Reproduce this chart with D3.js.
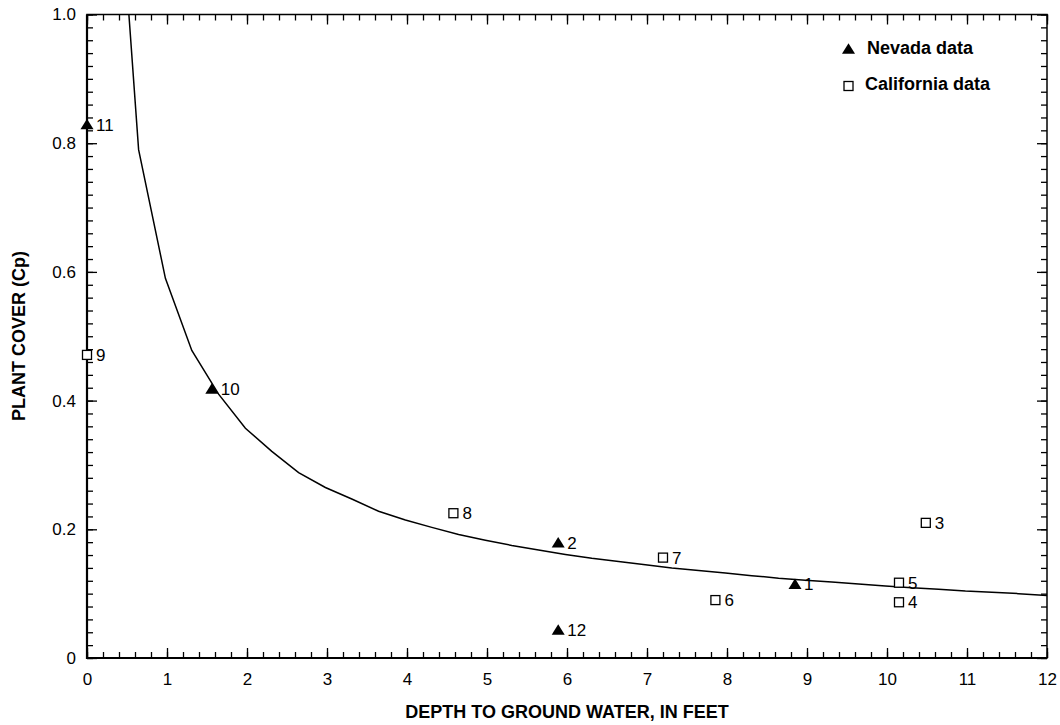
<!DOCTYPE html>
<html>
<head>
<meta charset="utf-8">
<script src="https://cdn.jsdelivr.net/npm/d3@7/dist/d3.min.js"></script>
<style>
  body { margin: 0; background: #fff; }
  svg { display: block; font-family: "Liberation Sans", Arial, Helvetica, sans-serif; }
  .tick text { font-size: 17px; fill: #000; }
</style>
</head>
<body>
<div id="chart"></div>
<script>
// Nevada sites (filled triangles)
var nevadaIds = ["1", "2", "10", "11", "12"];
var nevadaDepth = [8.85, 5.89, 1.56, 0.0, 5.89];
var nevadaCover = [0.1145, 0.179, 0.418, 0.829, 0.0435];

// California sites (open squares)
var californiaIds = ["3", "4", "5", "6", "7", "8", "9"];
var californiaDepth = [10.485, 10.15, 10.15, 7.855, 7.20, 4.58, 0.0];
var californiaCover = [0.210, 0.0866, 0.117, 0.090, 0.156, 0.225, 0.471];

// fitted curve, vertices
var curveDepth = [0.31, 0.645, 0.98, 1.31, 1.645, 1.98, 2.31, 2.645, 2.98, 3.31, 3.645, 3.98,
    4.31, 4.645, 4.98, 5.31, 5.645, 5.98, 6.31, 6.645, 6.98, 7.31, 7.645, 7.98,
    8.31, 8.645, 8.98, 9.31, 9.645, 9.98, 10.31, 10.645, 10.98, 11.31, 11.645, 12.0];
var curveCover = [1.37, 0.79, 0.59, 0.478, 0.41, 0.357, 0.321, 0.288, 0.265, 0.247, 0.228, 0.2145,
    0.203, 0.192, 0.183, 0.175, 0.168, 0.161, 0.155, 0.150, 0.145, 0.140, 0.136, 0.132,
    0.128, 0.124, 0.121, 0.118, 0.115, 0.112, 0.109, 0.107, 0.104, 0.102, 0.100, 0.097];

var xTicks = [0, 1, 2, 3, 4, 5, 6, 7, 8, 9, 10, 11, 12];
var yTicks = [0, 0.2, 0.4, 0.6, 0.8, 1.0];
var yTickLabels = ["0", "0.2", "0.4", "0.6", "0.8", "1.0"];

var width = 1060, height = 725;
var plotLeft = 87, plotRight = 1047, plotTop = 14.5, plotBottom = 658;

var svg = d3.select("#chart").append("svg")
    .attr("width", width)
    .attr("height", height);

var xScale = d3.scaleLinear().domain([0, 12]).range([plotLeft, plotRight]);
var yScale = d3.scaleLinear().domain([0, 1]).range([plotBottom, plotTop]);

var xMinor = d3.range(0, 12.001, 0.2);
var yMinor = d3.range(0, 1.0001, 0.02);

function draw(axis, translate) {
    var g = svg.append("g").attr("transform", translate).call(axis);
    g.select(".domain").remove();
    g.selectAll(".tick line").attr("stroke", "#000").attr("stroke-width", 1.3);
    return g;
}

// minor ticks on all four sides, pointing inward
draw(d3.axisBottom(xScale).tickValues(xMinor).tickSize(-6).tickFormat(""), `translate(0,${plotBottom})`);
draw(d3.axisTop(xScale).tickValues(xMinor).tickSize(-6).tickFormat(""), `translate(0,${plotTop})`);
draw(d3.axisLeft(yScale).tickValues(yMinor).tickSize(-6).tickFormat(""), `translate(${plotLeft},0)`);
draw(d3.axisRight(yScale).tickValues(yMinor).tickSize(-6).tickFormat(""), `translate(${plotRight},0)`);

// major ticks
draw(d3.axisBottom(xScale).tickValues(xTicks).tickSize(-10).tickPadding(15).tickFormat(d3.format("d")),
    `translate(0,${plotBottom})`)
    .selectAll(".tick text").attr("dy", "0.71em");
draw(d3.axisTop(xScale).tickValues(xTicks).tickSize(-10).tickFormat(""), `translate(0,${plotTop})`);
draw(d3.axisLeft(yScale).tickValues(yTicks).tickSize(-10).tickPadding(11)
    .tickFormat(function (d, i) { return yTickLabels[i]; }), `translate(${plotLeft},0)`);
draw(d3.axisRight(yScale).tickValues(yTicks).tickSize(-10).tickFormat(""), `translate(${plotRight},0)`);

// frame
svg.append("rect")
    .attr("x", plotLeft).attr("y", plotTop)
    .attr("width", plotRight - plotLeft).attr("height", plotBottom - plotTop)
    .attr("fill", "none").attr("stroke", "#000").attr("stroke-width", 1.5);
svg.append("path")
    .attr("d", `M${plotLeft},${plotTop}V${plotBottom}H${plotRight}`)
    .attr("fill", "none").attr("stroke", "#000").attr("stroke-width", 2.2);

// curve, clipped to plot
svg.append("clipPath").attr("id", "plotClip")
    .append("rect").attr("x", plotLeft).attr("y", plotTop)
    .attr("width", plotRight - plotLeft).attr("height", plotBottom - plotTop);

var curveData = curveDepth.map(function (d, i) { return [d, curveCover[i]]; });
var line = d3.line()
    .x(function (d) { return xScale(d[0]); })
    .y(function (d) { return yScale(d[1]); });

svg.append("path")
    .datum(curveData)
    .attr("clip-path", "url(#plotClip)")
    .attr("d", line)
    .attr("fill", "none")
    .attr("stroke", "#000")
    .attr("stroke-width", 1.5);

function triangle(cx, cy) {
    return `M${cx - 6.5},${cy + 4.8}L${cx + 6.5},${cy + 4.8}L${cx},${cy - 5.8}Z`;
}

var nevada = nevadaIds.map(function (id, i) {
    return {id: id, x: nevadaDepth[i], y: nevadaCover[i]};
});
var california = californiaIds.map(function (id, i) {
    return {id: id, x: californiaDepth[i], y: californiaCover[i]};
});

svg.append("g").selectAll("path")
    .data(nevada)
    .join("path")
    .attr("d", function (d) { return triangle(xScale(d.x), yScale(d.y)); })
    .attr("fill", "#000");

svg.append("g").selectAll("rect")
    .data(california)
    .join("rect")
    .attr("x", function (d) { return xScale(d.x) - 4.5; })
    .attr("y", function (d) { return yScale(d.y) - 4.5; })
    .attr("width", 9)
    .attr("height", 9)
    .attr("fill", "#fff")
    .attr("stroke", "#000")
    .attr("stroke-width", 1.3);

svg.append("g").selectAll("text")
    .data(nevada.concat(california))
    .join("text")
    .attr("x", function (d) { return xScale(d.x) + 9; })
    .attr("y", function (d) { return yScale(d.y); })
    .attr("dy", "0.36em")
    .style("font-size", "17px")
    .text(function (d) { return d.id; });

// legend
svg.append("path").attr("d", triangle(848.5, 49)).attr("fill", "#000");
svg.append("text").attr("x", 867).attr("y", 54.3)
    .style("font-size", "18px").style("font-weight", "bold").text("Nevada data");
svg.append("rect").attr("x", 844).attr("y", 81.5).attr("width", 9).attr("height", 9)
    .attr("fill", "#fff").attr("stroke", "#000").attr("stroke-width", 1.3);
svg.append("text").attr("x", 865).attr("y", 89.6)
    .style("font-size", "18px").style("font-weight", "bold").text("California data");

// axis titles
svg.append("text")
    .attr("x", (plotLeft + plotRight) / 2).attr("y", 718)
    .attr("text-anchor", "middle")
    .style("font-size", "18px").style("font-weight", "bold")
    .text("DEPTH TO GROUND WATER, IN FEET");

svg.append("text")
    .attr("transform", "translate(25,336) rotate(-90)")
    .attr("text-anchor", "middle")
    .style("font-size", "18px").style("font-weight", "bold")
    .text("PLANT COVER (Cp)");
</script>
</body>
</html>
